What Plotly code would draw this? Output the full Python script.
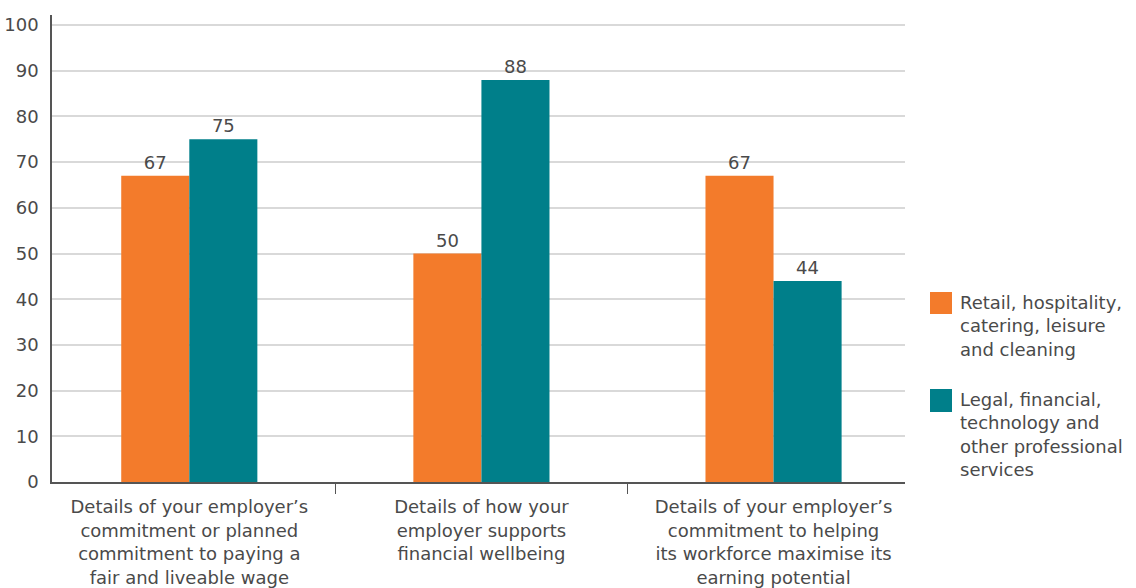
import plotly.graph_objects as go

# Survey categories (x axis) and the two sector series (percent)
categories = [
    "Details of your employer’s<br>commitment or planned<br>commitment to paying a<br>fair and liveable wage",
    "Details of how your<br>employer supports<br>financial wellbeing",
    "Details of your employer’s<br>commitment to helping<br>its workforce maximise its<br>earning potential",
]
series_names = [
    "Retail, hospitality,<br>catering, leisure<br>and cleaning",
    "Legal, financial,<br>technology and<br>other professional<br>services",
]
retail_values = [67, 50, 67]
professional_values = [75, 88, 44]
y_ticks = [0, 10, 20, 30, 40, 50, 60, 70, 80, 90, 100]

ORANGE = "#F37B2B"
TEAL = "#007F8A"
TEXT = "#4a4a4a"
FONT = "DejaVu Sans"
SIZE = 18

fig = go.Figure()
for name, vals, color in [
    (series_names[0], retail_values, ORANGE),
    (series_names[1], professional_values, TEAL),
]:
    fig.add_trace(go.Bar(
        x=categories, y=vals, name=name,
        marker=dict(color=color, line=dict(width=0)),
        text=[str(v) for v in vals], textposition="outside",
        textfont=dict(family=FONT, size=SIZE, color=TEXT),
        cliponaxis=False, showlegend=False,
    ))

# Legend drawn as large swatches with wrapped labels
legend_rows = [
    (series_names[0], ORANGE, 0.4069, 0.3597),
    (series_names[1], TEAL, 0.1991, 0.1499),
]
for label, color, top, bottom in legend_rows:
    fig.add_shape(type="rect", xref="paper", yref="paper",
                  x0=1.0293, x1=1.0551, y0=bottom, y1=top,
                  fillcolor=color, line=dict(width=0))
    fig.add_annotation(xref="paper", yref="paper", x=1.0621, y=top + 0.004,
                       xanchor="left", yanchor="top", align="left",
                       text=label, showarrow=False,
                       font=dict(family=FONT, size=SIZE, color=TEXT))

fig.update_layout(
    width=1136, height=588,
    margin=dict(l=52, r=231, t=15, b=106),
    paper_bgcolor="white", plot_bgcolor="white",
    barmode="group", bargap=0.534, bargroupgap=0,
    font=dict(family=FONT, size=SIZE, color=TEXT),
    showlegend=False,
)
fig.update_xaxes(
    range=[-0.47, 2.45], tickson="boundaries", ticks="outside", ticklen=10,
    tickcolor="#555555", tickwidth=1.2, automargin=False,
    ticklabelstandoff=8,
    showline=True, linecolor="#555555", linewidth=1.5,
    tickfont=dict(family=FONT, size=SIZE, color=TEXT),
    showgrid=False,
)
fig.update_yaxes(
    range=[0, 102.2], tickvals=y_ticks, automargin=False,
    showline=True, linecolor="#555555", linewidth=1.5,
    showgrid=True, gridcolor="#d9d9d9", gridwidth=1.5,
    zeroline=False, ticks="", ticklabelstandoff=8,
    tickfont=dict(family=FONT, size=SIZE, color=TEXT),
)

fig.write_html("out.html")
